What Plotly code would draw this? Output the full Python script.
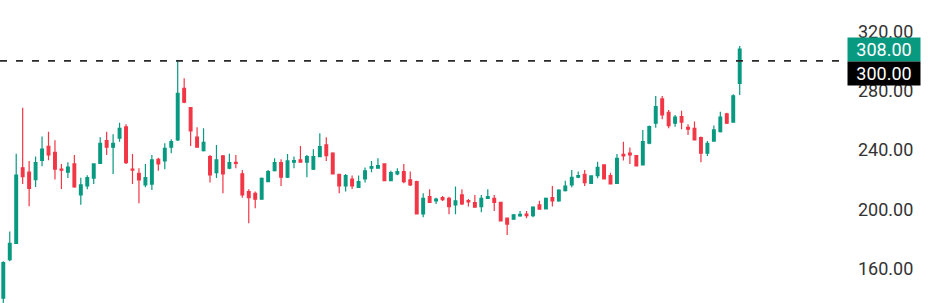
import plotly.graph_objects as go

# Candle index (session number)
idx = list(range(115))

opens = [140, 166, 177, 228, 225, 220, 233, 242.5, 238.4, 227,
         225, 230.6, 209.7, 215.7, 221, 231, 246.3, 241.8, 248, 255.5,
         227, 224.3, 216.4, 217, 233.7, 232.6, 241.8, 246.7, 281.6, 268.5,
         248.6, 239.5, 235.5, 224.7, 236, 227.7, 231.6, 223.8, 211.9, 210.8,
         206.8, 218.6, 226, 231.4, 221.6, 231.7, 233.3, 231.7, 227, 235.5,
         243.4, 237.8, 223.6, 215.7, 220.4, 214.8, 220.4, 227.7, 227.7, 230.6,
         219.3, 223.8, 225.4, 219.8, 218.6, 196.8, 208.5, 205.6, 207.8, 207.4,
         202.9, 209.7, 205.8, 204.5, 201.8, 207.4, 207.4, 204.7, 194, 193.3,
         195.5, 196.8, 195.7, 202.9, 200.2, 207.8, 205.6, 212.6, 216.4, 221.6,
         223.6, 217.5, 222.7, 229.9, 222.7, 217.5, 237.1, 237.8, 236.2, 229.9,
         244.5, 258, 274.4, 265.4, 258, 262.5, 255.3, 254.6, 248.3, 237.8,
         246, 252.3, 264.3, 258.7, 284.9]
highs = [165, 185, 237.5, 268.5, 232.6, 235.5, 249, 252.3, 246.5, 230.6,
         231.7, 236.6, 221.3, 223, 231, 248.6, 252.3, 250.6, 258.4, 257.3,
         237.3, 227.7, 230.6, 236.6, 234.8, 244.5, 247.2, 300, 288.3, 268.8,
         255.3, 254.6, 236.6, 243.4, 236.6, 237.5, 236.6, 226.5, 213.5, 212,
         221.5, 226.5, 234.4, 233.7, 237.3, 235.5, 242.7, 236.6, 240.5, 251.2,
         248.6, 238.5, 224, 223.8, 222.7, 222.7, 228.1, 232.6, 234.4, 231,
         226, 227.7, 230.6, 225.4, 219.3, 210.8, 213.5, 207.8, 209, 208.5,
         215.3, 213.5, 207, 209.7, 209.7, 213.5, 209.7, 205, 194.5, 196.8,
         198.9, 198.9, 202, 205.8, 208, 215.7, 213.5, 219.3, 226.5, 225.4,
         226.5, 223, 232.1, 230, 224.7, 237.3, 245.6, 241.6, 236.6, 253.5,
         256.5, 276.4, 276.4, 267, 263.6, 266.5, 257.3, 259.1, 249, 246,
         256.4, 265.8, 265, 277.6, 310]
lows = [135, 165, 176.5, 217, 202, 215, 229, 233, 220, 213.7,
        221, 214.5, 203, 213.5, 217, 230.5, 236.6, 223.8, 245.6, 230.5,
        217, 204, 214.8, 213, 226, 227, 237.8, 246, 271.5, 242.7,
        241.5, 238.9, 218, 221, 210.8, 227, 227.7, 207.8, 190.6, 200.7,
        206.5, 218.3, 225.5, 215.7, 221, 227.7, 231.5, 221.6, 226.5, 235,
        232.6, 223.5, 210.8, 211.9, 213.7, 214.5, 218, 225, 227.5, 219,
        219, 223, 217.5, 215.7, 196.5, 194.6, 204.5, 203.6, 205.6, 196.6,
        196.6, 202.9, 201.8, 201, 198, 207, 198.9, 191.8, 182.7, 193,
        195, 194, 194.6, 199.8, 200, 201.8, 205, 211.9, 214.8, 220.9,
        215.7, 217, 220.9, 220, 216.8, 217, 232.8, 230.6, 228.8, 229.5,
        243.8, 255, 260.7, 254.6, 255.7, 254, 250.1, 246.5, 231.7, 236,
        245.6, 251.7, 257.5, 258.3, 277]
closes = [164, 177, 223, 222, 214, 231.5, 240.5, 236.6, 227, 226.3,
          228.5, 215, 216.4, 221.3, 230.6, 244.5, 241.8, 244.5, 254.6, 231.4,
          226.4, 219.8, 221.3, 233.3, 230.6, 241.1, 245.6, 278.2, 272.2, 252.8,
          241.8, 245.2, 223.1, 233.3, 223.8, 231.4, 231, 209.7, 207.8, 206.8,
          220.9, 225.4, 231.4, 221.6, 232.6, 232.8, 231.7, 235.5, 235.5, 242.2,
          236.2, 223.8, 215.7, 222.7, 215.7, 218.6, 225.9, 228.8, 229.4, 219.3,
          224.7, 225.4, 218.6, 216.4, 196.8, 207.4, 204.7, 206.8, 206.5, 201.8,
          205.6, 203.6, 205, 201.4, 207.4, 208.5, 204.7, 192.1, 190, 196.2,
          196.6, 195.7, 201.4, 200, 207.4, 205.6, 213, 215.7, 221.6, 222.7,
          218, 222.5, 228.3, 220.4, 217.1, 234.4, 236, 236.6, 229.2, 245.6,
          255.7, 269.2, 263.6, 256.4, 262.1, 258.7, 254, 246.7, 237.8, 244.5,
          253.5, 262.1, 258, 276.4, 308]

level_price = 300
last_price = closes[-1]
y_ticks = [160, 200, 240, 280, 320]

UP = "#089981"
DOWN = "#F23645"
FONT = "Roboto"

fig = go.Figure()
fig.add_trace(go.Candlestick(
    x=idx, open=opens, high=highs, low=lows, close=closes,
    increasing=dict(line=dict(color=UP, width=1.2), fillcolor=UP),
    decreasing=dict(line=dict(color=DOWN, width=1.2), fillcolor=DOWN),
    whiskerwidth=0, showlegend=False,
))

fig.add_shape(type="line", xref="paper", yref="y", x0=0, x1=1,
              y0=level_price, y1=level_price,
              line=dict(color="#2a2a2a", width=1.8, dash="7px,9px"))

fig.add_annotation(xref="paper", yref="y", x=1.0024, y=last_price,
                   xanchor="left", yanchor="middle", showarrow=False,
                   text=f"{last_price:.2f}", bgcolor=UP, borderpad=1,
                   width=70, height=21,
                   font=dict(family=FONT, size=18, color="white"))
fig.add_annotation(xref="paper", yref="y", x=1.0024, y=level_price,
                   xanchor="left", yanchor="middle", showarrow=False,
                   yshift=-13,
                   text=f"{level_price:.2f}", bgcolor="#000000", borderpad=1,
                   width=70, height=21,
                   font=dict(family=FONT, size=18, color="white"))

fig.update_layout(
    width=940, height=303,
    margin=dict(l=0, r=95, t=0, b=0),
    paper_bgcolor="white", plot_bgcolor="white",
    boxgap=0.4,
    xaxis=dict(visible=False, range=[-0.51, 130.3],
               rangeslider=dict(visible=False)),
    yaxis=dict(side="right", range=[136.8, 341.1], tickvals=y_ticks,
               ticktext=[f"{v:.2f}" for v in y_ticks],
               showgrid=False, zeroline=False, showline=False,
               ticks="", ticklabelstandoff=12,
               tickfont=dict(family=FONT, size=18, color="#333333")),
)

fig.write_html("out.html")
